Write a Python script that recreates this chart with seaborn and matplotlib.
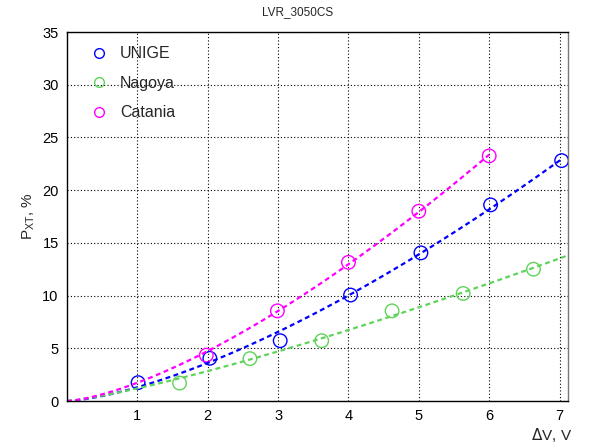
import numpy as np
import pandas as pd
import seaborn as sns
import matplotlib
matplotlib.use("Agg")
import matplotlib.pyplot as plt
from matplotlib.ticker import MultipleLocator

unige_x = [1.01, 2.03, 3.03, 4.03, 5.03, 6.02, 7.03]
unige_y = [1.74, 4.05, 5.72, 10.05, 14.05, 18.6, 22.8]
nagoya_x = [1.6, 2.6, 3.62, 4.62, 5.63, 6.63]
nagoya_y = [1.7, 4.02, 5.72, 8.55, 10.2, 12.5]
catania_x = [1.98, 2.99, 4.0, 5.0, 6.0]
catania_y = [4.35, 8.55, 13.15, 18.0, 23.25]

series = ["UNIGE", "Nagoya", "Catania"]
colors = {"UNIGE": "#0000ff", "Nagoya": "#5fd35a", "Catania": "#ff00ff"}
fit_end = {"UNIGE": 7.03, "Nagoya": 7.12, "Catania": 6.0}

df = pd.concat([
    pd.DataFrame({"dV": unige_x, "pxt": unige_y, "set": "UNIGE"}),
    pd.DataFrame({"dV": nagoya_x, "pxt": nagoya_y, "set": "Nagoya"}),
    pd.DataFrame({"dV": catania_x, "pxt": catania_y, "set": "Catania"}),
])


def fit_curve(x, y, xmax):
    """ power law fit y = a * x^b, log space weighted by y
    so it behaves like a plain least squares in y """
    y = np.asarray(y)
    b, lna = np.polyfit(np.log(x), np.log(y), 1, w=y)
    xs = np.linspace(0, xmax, 200)
    return xs, np.exp(lna) * xs ** b


sns.set_style("white")
plt.rcParams["font.family"] = ["Liberation Sans", "DejaVu Sans"]

fig = plt.figure(figsize=(5.95, 4.47), dpi=100)
ax = fig.add_axes([0.1126, 0.1029, 0.842, 0.8255])

# dashed fits first, markers on top
for name in series:
    sub = df[df["set"] == name]
    xs, ys = fit_curve(sub["dV"], sub["pxt"], fit_end[name])
    sns.lineplot(x=xs, y=ys, ax=ax, color=colors[name], lw=1.6,
                 dashes=False, linestyle=(0, (2.2, 1.6)), legend=False)

sns.scatterplot(data=df, x="dV", y="pxt", hue="set", hue_order=series,
                palette=colors, marker="o", s=95, facecolor="none",
                linewidth=1.0, ax=ax, legend=False)
# hollow markers
for coll in ax.collections:
    coll.set_facecolor("none")
    coll.set_edgecolor([colors[n] for n in df["set"]])

# legend, smaller circles than the data markers
for name in series:
    ax.plot([], [], "o", mfc="none", mec=colors[name], ms=7, mew=1.0, label=name)
ax.legend(loc="upper left", bbox_to_anchor=(0.02, 1.0), frameon=False,
          fontsize=11.5, labelspacing=0.9, handlelength=1.0, handletextpad=0.8)

ax.set_xlim(0, 7.12)
ax.set_ylim(0, 35)
ax.xaxis.set_major_locator(MultipleLocator(1))
ax.xaxis.set_minor_locator(MultipleLocator(0.2))
ax.yaxis.set_major_locator(MultipleLocator(5))
ax.yaxis.set_minor_locator(MultipleLocator(1))
ax.set_xticks([1, 2, 3, 4, 5, 6, 7])
ax.tick_params(which="both", direction="in", top=False, right=False,
               labelsize=10.5, colors="black", pad=6)
ax.tick_params(axis="x", which="major", length=11, width=1)
ax.tick_params(axis="x", which="minor", length=6, width=1)
ax.tick_params(axis="y", which="major", length=14, width=1)
ax.tick_params(axis="y", which="minor", length=8, width=1)
ax.grid(True, which="major", color="black", linestyle=(0, (1, 2)), lw=0.8)

for sp in ax.spines.values():
    sp.set_color("black")
    sp.set_linewidth(1.0)
ax.spines["right"].set_color("#777777")

ax.set_xlabel("")
ax.set_ylabel(r"P$_{\mathregular{XT}}$, %", fontsize=11, labelpad=4)
fig.text(572 / 595, 1 - 435 / 447, r"$\Delta$V, V", ha="right", va="center",
         fontsize=11)
fig.text(0.5, 0.973, "LVR_3050CS", ha="center", va="center", fontsize=8.5)

fig.savefig("out.png", dpi=100)
